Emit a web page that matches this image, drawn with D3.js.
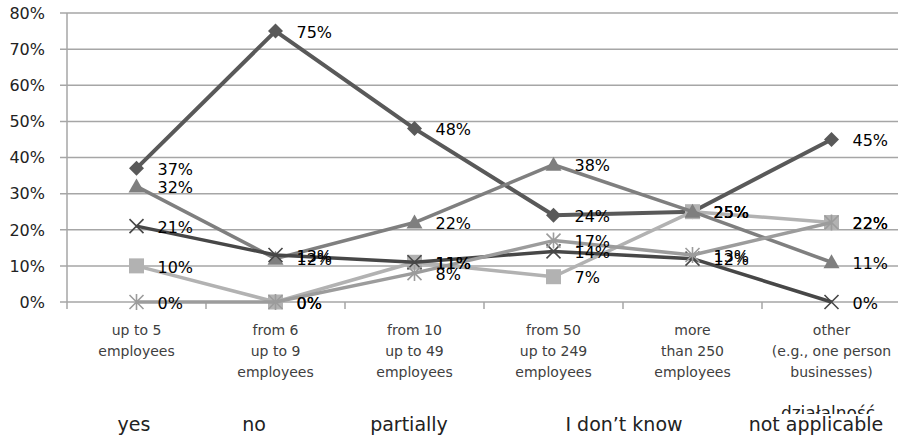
<!DOCTYPE html>
<html>
<head>
<meta charset="utf-8">
<script src="https://cdn.jsdelivr.net/npm/d3@7"></script>
<style>
  html, body { margin: 0; padding: 0; background: #fff; }
  svg { display: block; }
</style>
</head>
<body>
<svg id="chart" width="898" height="440"></svg>
<script>
// ---- data ----
const categories = [
  ["up to 5", "employees"],
  ["from 6", "up to 9", "employees"],
  ["from 10", "up to 49", "employees"],
  ["from 50", "up to 249", "employees"],
  ["more", "than 250", "employees"],
  ["other", "(e.g., one person", "businesses)"]
];
const seriesNames = ["yes", "no", "partially", "I don’t know", "not applicable"];
const yesValues = [37, 75, 48, 24, 25, 45];
const noValues = [10, 0, 11, 7, 25, 22];
const partiallyValues = [32, 12, 22, 38, 25, 11];
const dontKnowValues = [21, 13, 11, 14, 12, 0];
const notApplicableValues = [0, 0, 8, 17, 13, 22];
const yTickValues = [0, 10, 20, 30, 40, 50, 60, 70, 80];
const strayLegendText = "działalność";

(function () {
// ---- styling ----
const seriesStyle = [
  { color: "#595959", marker: "diamond", width: 4 },
  { color: "#b2b2b2", marker: "square", width: 3.5 },
  { color: "#7f7f7f", marker: "triangle", width: 3.5 },
  { color: "#474747", marker: "x", width: 3.5 },
  { color: "#9c9c9c", marker: "asterisk", width: 3.5 }
];
const seriesValues = [yesValues, noValues, partiallyValues, dontKnowValues, notApplicableValues];

const svg = d3.select("#chart");
const plotLeft = 67, plotRight = 901, plotTop = 13, plotBottom = 302;

const x = d3.scaleBand().domain(d3.range(categories.length)).range([plotLeft, plotRight]);
const y = d3.scaleLinear().domain([0, 80]).range([plotBottom, plotTop]);
const cx = i => x(i) + x.bandwidth() / 2;

// gridlines
svg.append("g").selectAll("line").data(yTickValues).join("line")
  .attr("x1", plotLeft - 7).attr("x2", 898)
  .attr("y1", d => y(d)).attr("y2", d => y(d))
  .attr("stroke", "#a6a6a6").attr("stroke-width", 1.5);

// y axis line
svg.append("line").attr("x1", plotLeft).attr("x2", plotLeft)
  .attr("y1", plotTop).attr("y2", plotBottom + 7)
  .attr("stroke", "#a6a6a6").attr("stroke-width", 1.5);

// x tick marks
svg.append("g").selectAll("line").data(d3.range(1, categories.length)).join("line")
  .attr("x1", d => x(d)).attr("x2", d => x(d))
  .attr("y1", plotBottom).attr("y2", plotBottom + 7)
  .attr("stroke", "#a6a6a6").attr("stroke-width", 1.5);

// y labels
svg.append("g").selectAll("text").data(yTickValues).join("text")
  .attr("x", 45).attr("y", d => y(d))
  .attr("dy", "0.36em")
  .attr("text-anchor", "end")
  .attr("font-family", "DejaVu Sans, sans-serif")
  .attr("font-size", 16)
  .attr("fill", "#222")
  .text(d => d + "%");

// category labels
const catG = svg.append("g");
categories.forEach((lines, i) => {
  const t = catG.append("text")
    .attr("text-anchor", "middle")
    .attr("font-family", "DejaVu Sans, sans-serif")
    .attr("font-size", 14)
    .attr("fill", "#404040");
  lines.forEach((ln, j) => {
    t.append("tspan").attr("x", cx(i)).attr("y", 335 + j * 21).text(ln);
  });
});

// markers
function drawMarker(g, type, px, py, color) {
  if (type === "diamond") {
    g.append("path").attr("d", `M${px},${py - 7.5}L${px + 7.5},${py}L${px},${py + 7.5}L${px - 7.5},${py}Z`)
      .attr("fill", color);
  } else if (type === "square") {
    g.append("rect").attr("x", px - 7.5).attr("y", py - 7.5).attr("width", 15).attr("height", 15)
      .attr("fill", color);
  } else if (type === "triangle") {
    g.append("path").attr("d", `M${px},${py - 8}L${px + 8},${py + 6}L${px - 8},${py + 6}Z`)
      .attr("fill", color);
  } else if (type === "x") {
    g.append("path").attr("d", `M${px - 7},${py - 7}L${px + 7},${py + 7}M${px + 7},${py - 7}L${px - 7},${py + 7}`)
      .attr("stroke", color).attr("stroke-width", 1.6).attr("fill", "none");
  } else if (type === "asterisk") {
    g.append("path").attr("d", `M${px - 7},${py - 7}L${px + 7},${py + 7}M${px + 7},${py - 7}L${px - 7},${py + 7}M${px},${py - 8}L${px},${py + 8}`)
      .attr("stroke", color).attr("stroke-width", 1.6).attr("fill", "none");
  }
}

const line = d3.line().x((d, i) => cx(i)).y(d => y(d));

seriesValues.forEach((vals, s) => {
  const st = seriesStyle[s];
  const g = svg.append("g");
  g.append("path").datum(vals).attr("d", line)
    .attr("fill", "none").attr("stroke", st.color)
    .attr("stroke-width", st.width).attr("stroke-linejoin", "round");
  vals.forEach((v, i) => drawMarker(g, st.marker, cx(i), y(v), st.color));
});

// data labels
seriesValues.forEach((vals, s) => {
  svg.append("g").selectAll("text").data(vals).join("text")
    .attr("x", (d, i) => cx(i) + 21)
    .attr("y", d => y(d) + 1)
    .attr("dy", "0.36em")
    .attr("font-family", "DejaVu Sans, sans-serif")
    .attr("font-size", 16)
    .attr("fill", "#000")
    .text(d => d + "%");
});

// legend
const legendX = [134, 254, 409, 624, 816];
const defs = svg.append("defs");
defs.append("clipPath").attr("id", "strayClip")
  .append("rect").attr("x", 700).attr("y", 395).attr("width", 198).attr("height", 19);
svg.append("text")
  .attr("x", 828).attr("y", 419)
  .attr("text-anchor", "middle")
  .attr("font-family", "DejaVu Sans, sans-serif")
  .attr("font-size", 17)
  .attr("fill", "#222")
  .attr("clip-path", "url(#strayClip)")
  .text(strayLegendText);

svg.append("g").selectAll("text").data(seriesNames).join("text")
  .attr("x", (d, i) => legendX[i])
  .attr("y", 431)
  .attr("text-anchor", "middle")
  .attr("font-family", "DejaVu Sans, sans-serif")
  .attr("font-size", 19)
  .attr("fill", "#222")
  .text(d => d);
})();
</script>
</body>
</html>
